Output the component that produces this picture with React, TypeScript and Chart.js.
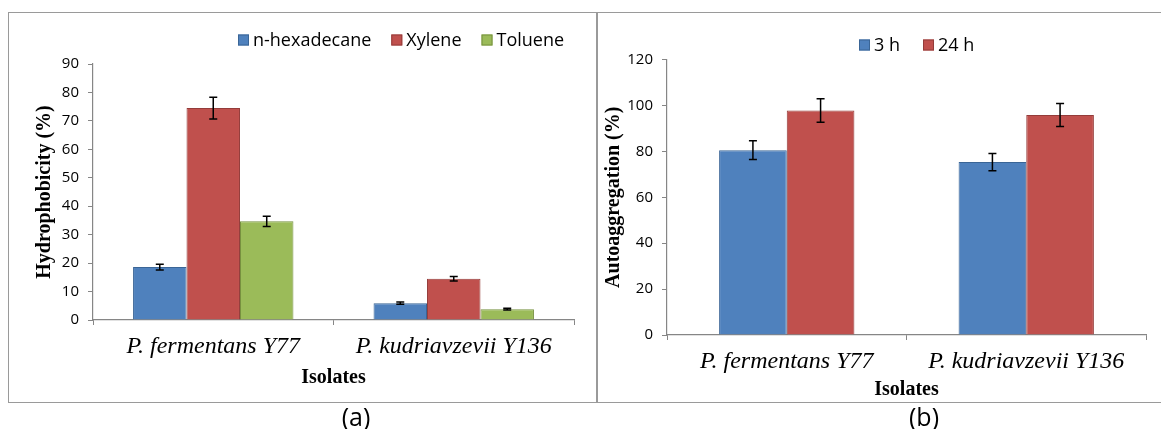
import React, { useEffect, useRef } from "react";
import { Chart, registerables } from "chart.js";

Chart.register(...registerables);

// ---------- data ----------
const categories = ["P. fermentans Y77", "P. kudriavzevii Y136"];

const hydroTitle = "Hydrophobicity (%)";
const hydroSeries = ["n-hexadecane", "Xylene", "Toluene"];
const hexadecane = [18.6, 5.9];
const hexadecaneErr = [1.0, 0.4];
const xylene = [74.5, 14.5];
const xyleneErr = [3.8, 0.8];
const toluene = [34.7, 3.8];
const tolueneErr = [1.8, 0.3];
const hydroMin = 0;
const hydroMax = 90;
const hydroStep = 10;

const autoTitle = "Autoaggregation (%)";
const autoSeries = ["3 h", "24 h"];
const auto3h = [80.5, 75.3];
const auto3hErr = [4.1, 3.8];
const auto24h = [97.8, 95.8];
const auto24hErr = [5.1, 5.0];
const autoMin = 0;
const autoMax = 120;
const autoStep = 20;

const xTitle = "Isolates";
const panelLabels = ["(a)", "(b)"];

// ---------- styles ----------
const BLUE = "#4F81BD";
const BLUE_B = "#3A6596";
const RED = "#C0504D";
const RED_B = "#943C3A";
const GREEN = "#9BBB59";
const GREEN_B = "#76913F";
const AXIS = "#868686";

const errorBarPlugin = {
  id: "errorBars",
  afterDatasetsDraw(chart: any) {
    const ctx = chart.ctx;
    const y = chart.scales.y;
    chart.data.datasets.forEach((ds: any, di: number) => {
      const errs = ds.errors;
      if (!errs) return;
      const meta = chart.getDatasetMeta(di);
      meta.data.forEach((bar: any, i: number) => {
        const v = ds.data[i];
        const e = errs[i];
        const yTop = y.getPixelForValue(v + e);
        const yBot = y.getPixelForValue(v - e);
        const x = bar.x;
        ctx.save();
        ctx.strokeStyle = "#000";
        ctx.lineWidth = 1.5;
        ctx.beginPath();
        ctx.moveTo(x, yTop);
        ctx.lineTo(x, yBot);
        ctx.moveTo(x - 4, yTop);
        ctx.lineTo(x + 4, yTop);
        ctx.moveTo(x - 4, yBot);
        ctx.lineTo(x + 4, yBot);
        ctx.stroke();
        ctx.restore();
      });
    });
  },
};

const boxLegendPlugin = {
  id: "boxLegend",
  afterDraw(chart: any, _args: any, opts: any) {
    const ctx = chart.ctx;
    let x = opts.x;
    const y = opts.y;
    ctx.save();
    ctx.font = `${opts.size}px "Open Sans"`;
    ctx.textBaseline = "middle";
    ctx.textAlign = "left";
    chart.data.datasets.forEach((ds: any) => {
      ctx.fillStyle = ds.backgroundColor;
      ctx.fillRect(x, y - 5.5, 11, 11);
      ctx.strokeStyle = ds.borderColor;
      ctx.lineWidth = 1;
      ctx.strokeRect(x + 0.5, y - 5, 10, 10);
      ctx.fillStyle = "#000";
      ctx.fillText(ds.label, x + 15, y + 1);
      x += 15 + ctx.measureText(ds.label).width + opts.gap;
    });
    ctx.restore();
  },
};

function makeOptions(p: any) {
  return {
    responsive: false,
    animation: false,
    events: [],
    layout: { padding: { left: 0, top: p.top, right: p.right, bottom: 0 } },
    plugins: {
      legend: { display: false },
      tooltip: { enabled: false },
      boxLegend: { x: p.legX, y: p.legY, size: 18, gap: p.legGap },
    },
    scales: {
      x: {
        grid: {
          display: true,
          offset: true,
          drawOnChartArea: false,
          drawTicks: true,
          tickLength: 5,
          color: AXIS,
          lineWidth: 1,
        },
        border: { display: true, color: AXIS, width: 1.2 },
        ticks: {
          font: { family: "Liberation Serif", style: "italic", size: 24 },
          color: "#000",
          padding: 7,
          maxRotation: 0,
          autoSkip: false,
        },
        title: {
          display: true,
          text: xTitle,
          font: { family: "Liberation Serif", weight: "bold", size: 20 },
          color: "#000",
          padding: { top: 0, bottom: p.xTitleBottom },
        },
        afterFit: (s: any) => {
          s.height = p.xH;
        },
      },
      y: {
        min: p.min,
        max: p.max,
        ticks: {
          stepSize: p.step,
          font: { family: "Open Sans", size: 15 },
          color: "#000",
          padding: 9,
        },
        grid: {
          drawOnChartArea: false,
          drawTicks: true,
          tickLength: 5,
          color: AXIS,
        },
        border: { display: true, color: AXIS, width: 1.2 },
        title: {
          display: true,
          text: p.yTitle,
          font: { family: "Liberation Serif", weight: "bold", size: 20 },
          color: "#000",
          padding: { top: p.yTitleTop, bottom: 0 },
        },
        afterFit: (s: any) => {
          s.width = p.yW;
        },
      },
    },
  };
}

function HydroChart() {
  const ref = useRef<HTMLCanvasElement | null>(null);
  useEffect(() => {
    if (!ref.current) return;
    const chart = new Chart(ref.current, {
      type: "bar",
      data: {
        labels: categories,
        datasets: [
          { label: hydroSeries[0], data: hexadecane, errors: hexadecaneErr, backgroundColor: BLUE, borderColor: BLUE_B, borderWidth: 1, categoryPercentage: 0.667, barPercentage: 1 } as any,
          { label: hydroSeries[1], data: xylene, errors: xyleneErr, backgroundColor: RED, borderColor: RED_B, borderWidth: 1, categoryPercentage: 0.667, barPercentage: 1 } as any,
          { label: hydroSeries[2], data: toluene, errors: tolueneErr, backgroundColor: GREEN, borderColor: GREEN_B, borderWidth: 1, categoryPercentage: 0.667, barPercentage: 1 } as any,
        ],
      },
      options: makeOptions({
        top: 51, right: 22, yW: 84, xH: 82, yTitleTop: 24, xTitleBottom: 12,
        min: hydroMin, max: hydroMax, step: hydroStep, yTitle: hydroTitle,
        legX: 229, legY: 27, legGap: 20,
      }) as any,
      plugins: [errorBarPlugin, boxLegendPlugin],
    });
    return () => chart.destroy();
  }, []);
  return <canvas ref={ref} width={587} height={389} style={{ position: "absolute", left: 9, top: 13, display: "block" }} />;
}

function AutoChart() {
  const ref = useRef<HTMLCanvasElement | null>(null);
  useEffect(() => {
    if (!ref.current) return;
    const chart = new Chart(ref.current, {
      type: "bar",
      data: {
        labels: categories,
        datasets: [
          { label: autoSeries[0], data: auto3h, errors: auto3hErr, backgroundColor: BLUE, borderColor: BLUE_B, borderWidth: 1, categoryPercentage: 0.565, barPercentage: 1 } as any,
          { label: autoSeries[1], data: auto24h, errors: auto24hErr, backgroundColor: RED, borderColor: RED_B, borderWidth: 1, categoryPercentage: 0.565, barPercentage: 1 } as any,
        ],
      },
      options: makeOptions({
        top: 46.5, right: 15, yW: 69, xH: 67, yTitleTop: 4, xTitleBottom: 0,
        min: autoMin, max: autoMax, step: autoStep, yTitle: autoTitle,
        legX: 261, legY: 32, legGap: 23,
      }) as any,
      plugins: [errorBarPlugin, boxLegendPlugin],
    });
    return () => chart.destroy();
  }, []);
  return <canvas ref={ref} width={563} height={389} style={{ position: "absolute", left: 598, top: 13, display: "block" }} />;
}

export default function App() {
  const labelStyle: React.CSSProperties = {
    position: "absolute",
    top: 403,
    width: 60,
    textAlign: "center",
    fontFamily: '"Open Sans", sans-serif',
    fontSize: 25,
    lineHeight: "27px",
    color: "#000",
  };
  return (
    <div style={{ position: "absolute", left: 0, top: 0, width: 1161, height: 429, overflow: "hidden", background: "#fff" }}>
      <div style={{ position: "absolute", left: 8, top: 12, width: 1170, height: 389, border: "1.5px solid #9a9a9a" }} />
      <div style={{ position: "absolute", left: 596, top: 12, width: 1.5, height: 391, background: "#9a9a9a" }} />
      <HydroChart />
      <AutoChart />
      <div style={{ ...labelStyle, left: 356 - 30 }}>{panelLabels[0]}</div>
      <div style={{ ...labelStyle, left: 924 - 30 }}>{panelLabels[1]}</div>
    </div>
  );
}
